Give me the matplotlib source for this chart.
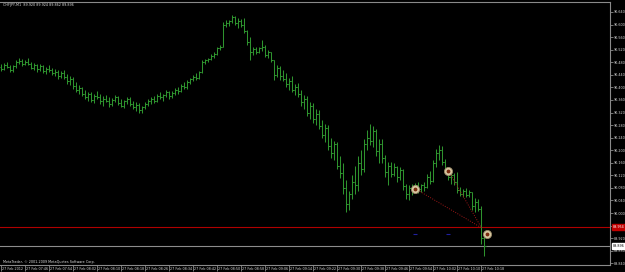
import matplotlib
matplotlib.use("Agg")
import matplotlib.pyplot as plt
import matplotlib.transforms as mtransforms

# ---------------- data (CHFJPY, M1, 27 Feb 2012 07:38 .. 10:19) ----------------
opens = [90.465, 90.460, 90.471, 90.466, 90.456, 90.468, 90.480, 90.485, 90.474, 90.482,
         90.476, 90.463, 90.470, 90.458, 90.468, 90.452, 90.460, 90.455, 90.445, 90.450,
         90.436, 90.447, 90.432, 90.420, 90.428, 90.404, 90.392, 90.398, 90.380, 90.370,
         90.378, 90.360, 90.374, 90.368, 90.356, 90.364, 90.358, 90.346, 90.360, 90.368,
         90.350, 90.342, 90.356, 90.362, 90.346, 90.338, 90.344, 90.328, 90.336, 90.348,
         90.356, 90.364, 90.358, 90.372, 90.368, 90.376, 90.384, 90.372, 90.382, 90.392,
         90.388, 90.404, 90.400, 90.418, 90.426, 90.434, 90.430, 90.448, 90.480, 90.486,
         90.490, 90.500, 90.506, 90.524, 90.530, 90.600, 90.606, 90.610, 90.624, 90.606,
         90.612, 90.598, 90.580, 90.544, 90.512, 90.522, 90.512, 90.524, 90.530, 90.504,
         90.512, 90.486, 90.440, 90.462, 90.436, 90.428, 90.410, 90.420, 90.392, 90.400,
         90.380, 90.352, 90.364, 90.320, 90.340, 90.298, 90.316, 90.276, 90.250, 90.270,
         90.214, 90.190, 90.220, 90.150, 90.126, 90.080, 90.030, 90.060, 90.100, 90.090,
         90.160, 90.140, 90.220, 90.240, 90.230, 90.260, 90.196, 90.220, 90.176, 90.130,
         90.150, 90.124, 90.146, 90.114, 90.136, 90.086, 90.060, 90.080, 90.070, 90.088,
         90.076, 90.090, 90.084, 90.116, 90.102, 90.160, 90.190, 90.200, 90.164, 90.140,
         90.116, 90.120, 90.100, 90.074, 90.062, 90.070, 90.058, 90.066, 90.024, 90.036,
         90.014, 89.920]
highs = [90.474, 90.478, 90.482, 90.470, 90.472, 90.486, 90.493, 90.490, 90.488, 90.492,
         90.480, 90.478, 90.476, 90.474, 90.472, 90.466, 90.470, 90.462, 90.458, 90.456,
         90.452, 90.454, 90.442, 90.436, 90.432, 90.418, 90.406, 90.402, 90.392, 90.386,
         90.384, 90.380, 90.390, 90.378, 90.372, 90.376, 90.368, 90.366, 90.376, 90.374,
         90.364, 90.360, 90.370, 90.368, 90.358, 90.352, 90.350, 90.342, 90.352, 90.362,
         90.370, 90.372, 90.378, 90.386, 90.380, 90.392, 90.390, 90.388, 90.398, 90.402,
         90.410, 90.416, 90.424, 90.430, 90.440, 90.446, 90.452, 90.487, 90.490, 90.494,
         90.506, 90.512, 90.530, 90.536, 90.608, 90.614, 90.616, 90.632, 90.628, 90.620,
         90.618, 90.622, 90.584, 90.560, 90.530, 90.528, 90.530, 90.552, 90.534, 90.520,
         90.514, 90.488, 90.472, 90.468, 90.456, 90.446, 90.430, 90.436, 90.410, 90.414,
         90.392, 90.376, 90.372, 90.352, 90.350, 90.330, 90.328, 90.296, 90.282, 90.280,
         90.240, 90.230, 90.226, 90.180, 90.160, 90.106, 90.070, 90.120, 90.150, 90.180,
         90.200, 90.236, 90.264, 90.282, 90.276, 90.268, 90.236, 90.236, 90.186, 90.164,
         90.162, 90.158, 90.150, 90.146, 90.140, 90.092, 90.090, 90.092, 90.096, 90.100,
         90.094, 90.100, 90.124, 90.134, 90.170, 90.204, 90.218, 90.212, 90.172, 90.146,
         90.130, 90.128, 90.130, 90.082, 90.078, 90.080, 90.074, 90.068, 90.048, 90.044,
         90.022, 89.924]
lows = [90.452, 90.455, 90.462, 90.448, 90.450, 90.463, 90.474, 90.468, 90.470, 90.472,
        90.458, 90.456, 90.450, 90.452, 90.446, 90.442, 90.450, 90.438, 90.436, 90.428,
        90.430, 90.426, 90.412, 90.408, 90.396, 90.386, 90.380, 90.372, 90.362, 90.358,
        90.352, 90.350, 90.362, 90.346, 90.340, 90.352, 90.338, 90.340, 90.352, 90.344,
        90.336, 90.334, 90.348, 90.340, 90.330, 90.324, 90.320, 90.318, 90.330, 90.340,
        90.348, 90.350, 90.352, 90.362, 90.356, 90.370, 90.364, 90.366, 90.376, 90.380,
        90.384, 90.394, 90.396, 90.412, 90.420, 90.424, 90.426, 90.446, 90.474, 90.482,
        90.486, 90.494, 90.502, 90.518, 90.528, 90.592, 90.596, 90.606, 90.600, 90.590,
        90.592, 90.574, 90.536, 90.488, 90.504, 90.506, 90.508, 90.516, 90.496, 90.494,
        90.480, 90.424, 90.432, 90.424, 90.420, 90.400, 90.392, 90.384, 90.376, 90.370,
        90.340, 90.330, 90.310, 90.300, 90.286, 90.280, 90.266, 90.240, 90.226, 90.200,
        90.176, 90.168, 90.140, 90.110, 90.060, 90.002, 90.010, 90.044, 90.060, 90.070,
        90.120, 90.130, 90.200, 90.216, 90.210, 90.180, 90.160, 90.160, 90.116, 90.090,
        90.114, 90.118, 90.100, 90.104, 90.074, 90.044, 90.042, 90.058, 90.066, 90.064,
        90.066, 90.070, 90.080, 90.094, 90.098, 90.148, 90.168, 90.152, 90.130, 90.106,
        90.092, 90.090, 90.064, 90.054, 90.050, 90.052, 90.050, 90.010, 90.004, 90.006,
        89.900, 89.862]
closes = [90.460, 90.471, 90.466, 90.456, 90.468, 90.480, 90.485, 90.474, 90.482, 90.476,
          90.463, 90.470, 90.458, 90.468, 90.452, 90.460, 90.455, 90.445, 90.450, 90.436,
          90.447, 90.432, 90.420, 90.428, 90.404, 90.392, 90.398, 90.380, 90.370, 90.378,
          90.360, 90.374, 90.368, 90.356, 90.364, 90.358, 90.346, 90.360, 90.368, 90.350,
          90.342, 90.356, 90.362, 90.346, 90.338, 90.344, 90.328, 90.336, 90.348, 90.356,
          90.364, 90.358, 90.372, 90.368, 90.376, 90.384, 90.372, 90.382, 90.392, 90.388,
          90.404, 90.400, 90.418, 90.426, 90.434, 90.430, 90.448, 90.480, 90.486, 90.490,
          90.500, 90.506, 90.524, 90.530, 90.600, 90.606, 90.610, 90.624, 90.606, 90.612,
          90.598, 90.580, 90.544, 90.512, 90.522, 90.512, 90.524, 90.530, 90.504, 90.512,
          90.486, 90.440, 90.462, 90.436, 90.428, 90.410, 90.420, 90.392, 90.400, 90.380,
          90.352, 90.364, 90.320, 90.340, 90.298, 90.316, 90.276, 90.250, 90.270, 90.214,
          90.190, 90.220, 90.150, 90.126, 90.080, 90.030, 90.060, 90.100, 90.090, 90.160,
          90.140, 90.220, 90.240, 90.230, 90.260, 90.196, 90.220, 90.176, 90.130, 90.150,
          90.124, 90.146, 90.114, 90.136, 90.086, 90.060, 90.080, 90.070, 90.088, 90.076,
          90.090, 90.084, 90.116, 90.102, 90.160, 90.190, 90.200, 90.164, 90.140, 90.116,
          90.120, 90.100, 90.074, 90.062, 90.070, 90.058, 90.066, 90.024, 90.036, 90.014,
          89.920, 89.896]

y_ticks = [90.640, 90.600, 90.560, 90.520, 90.480, 90.440, 90.400, 90.360, 90.320,
           90.280, 90.240, 90.200, 90.160, 90.120, 90.080, 90.040, 90.000, 89.960,
           89.920, 89.880, 89.840]
x_tick_bars = [0, 8, 16, 24, 32, 40, 48, 56, 64, 72, 80, 88, 96, 104, 112, 120,
               128, 136, 144, 152, 160]
x_tick_labels = ["27 Feb 2012", "27 Feb 07:46", "27 Feb 07:54", "27 Feb 08:02",
                 "27 Feb 08:10", "27 Feb 08:18", "27 Feb 08:26", "27 Feb 08:34",
                 "27 Feb 08:42", "27 Feb 08:50", "27 Feb 08:58", "27 Feb 09:06",
                 "27 Feb 09:14", "27 Feb 09:22", "27 Feb 09:30", "27 Feb 09:38",
                 "27 Feb 09:46", "27 Feb 09:54", "27 Feb 10:02", "27 Feb 10:10",
                 "27 Feb 10:18"]

title_text = "CHFJPY,M1  89.920 89.924 89.862 89.896"
copyright_text = "MetaTrader, \u00a9 2001-2009 MetaQuotes Software Corp."

bid_price = 89.896
level_price = 89.954
# trade markers: (bar index, price)
entry_bars = [138, 149]
entry_prices = [90.077, 90.134]
exit_bar = 160
exit_price = 89.953
close_marker_bar = 162.0
close_marker_price = 89.934
sl_bars = [138, 149]
sl_prices = [89.934, 89.934]

# ---------------- drawing ----------------
W, H = 625, 272
FS = 2.4
fig = plt.figure(figsize=(W / 100, H / 100), dpi=100, facecolor="black")
ax = fig.add_axes([0, 1 - 265 / H, 610 / W, 263 / H], facecolor="black")

n = len(closes)
idx = list(range(n))
bar_col = "#2e932e"
ax.vlines(idx, lows, highs, color=bar_col, lw=0.75)
ax.hlines(opens, [i - 0.34 for i in idx], idx, color=bar_col, lw=0.75)
ax.hlines(closes, idx, [i + 0.34 for i in idx], color=bar_col, lw=0.75)

ax.axhline(level_price, color="#b00000", lw=0.8, zorder=1)
ax.axhline(bid_price, color="#8c8c8c", lw=0.8, zorder=1)

for b, p in zip(entry_bars, entry_prices):
    ax.plot([b, exit_bar], [p, exit_price], color="#a01818", lw=0.7, ls=(0, (1, 1.5)), zorder=2)

ax.scatter(sl_bars, sl_prices, marker="_", s=6, color="#2020a0", lw=0.8, zorder=2)

mx = entry_bars + [close_marker_bar]
my = entry_prices + [close_marker_price]
ax.scatter(mx, my, s=34, facecolor="#d8c8a2", edgecolor="#9a8a68", lw=0.6, zorder=4)
ax.scatter(mx, my, s=3, color="#7a2a10", zorder=5)

ax.set_xlim(-0.5, 610 / 3 - 0.5)
ax.set_ylim(89.8346, 90.6718)

ax.spines["left"].set_visible(False)
for s in ["top", "right", "bottom"]:
    ax.spines[s].set_color("#8a8a8a")
    ax.spines[s].set_linewidth(0.8)

ax.yaxis.tick_right()
ax.set_yticks(y_ticks)
ax.set_yticklabels([f"{v:.3f}" for v in y_ticks])
ax.tick_params(axis="y", colors="#8a8a8a", labelcolor="#d8d8d8", labelsize=FS,
               length=1.8, width=0.6, pad=1.2)

ax.set_xticks(x_tick_bars)
ax.set_xticklabels([])
ax.tick_params(axis="x", colors="#8a8a8a", length=4.5, width=0.6)
xtrans = mtransforms.blended_transform_factory(ax.transData, fig.transFigure)
for b, lab in zip(x_tick_bars, x_tick_labels):
    ax.text(b + 0.25, 1 - 268.6 / H, lab, transform=xtrans, fontsize=FS, color="#d8d8d8",
            ha="left", va="center", clip_on=False)

trans = mtransforms.blended_transform_factory(ax.transAxes, ax.transData)
ax.text(1.005, level_price, f"{level_price:.3f}", transform=trans, fontsize=FS,
        color="white", va="center", ha="left", zorder=6, clip_on=False,
        bbox=dict(boxstyle="square,pad=0.3", facecolor="#c00000", edgecolor="#c00000"))
ax.text(1.005, bid_price, f"{bid_price:.3f}", transform=trans, fontsize=FS,
        color="black", va="center", ha="left", zorder=6, clip_on=False,
        bbox=dict(boxstyle="square,pad=0.3", facecolor="white", edgecolor="white"))

fig.text(3 / W, 1 - 5 / H, title_text, fontsize=FS, color="#e0e0e0", va="center", ha="left")
fig.text(3 / W, 1 - 261.5 / H, copyright_text, fontsize=FS, color="#e0e0e0", va="center", ha="left")

fig.savefig("out.png", dpi=100, facecolor="black")
